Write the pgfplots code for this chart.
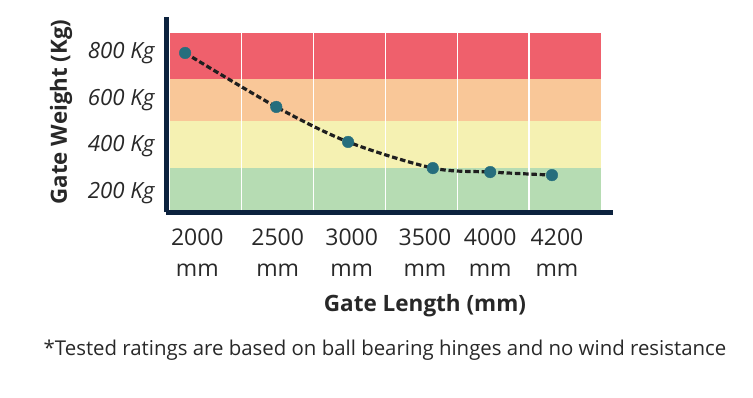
\documentclass[border=0pt]{standalone}
\usepackage{pgfplots}
\pgfplotsset{compat=1.18}
\usepackage{fontspec}
\setmainfont{Open Sans}
\definecolor{bandred}{RGB}{239,96,108}
\definecolor{bandorange}{RGB}{249,199,152}
\definecolor{bandyellow}{RGB}{245,241,178}
\definecolor{bandgreen}{RGB}{182,220,179}
\definecolor{spine}{RGB}{12,34,62}
\definecolor{pt}{RGB}{38,110,125}
\definecolor{txt}{RGB}{40,40,40}
\begin{document}
\begin{tikzpicture}[x=1pt,y=1pt]
\path[use as bounding box] (0,0) rectangle (753,397);
\begin{axis}[
  at={(166pt,185pt)}, anchor=south west,
  scale only axis, width=447pt, height=195pt,
  xmin=-0.056, xmax=6.17, ymin=119, ymax=954,
  axis x line*=bottom, axis y line*=left,
  axis line style={line width=5pt, color=spine, -},
  major tick length=0pt,
  xtick={0.38,1.50,2.53,3.55,4.46,5.39},
  xticklabels={{2000\\mm},{2500\\mm},{3000\\mm},{3500\\mm},{4000\\mm},{4200\\mm}},
  xticklabel style={align=center, font=\fontsize{23}{31}\selectfont, text=txt, yshift=-13pt},
  ytick={200,400,600,800},
  yticklabels={200 Kg,400 Kg,600 Kg,800 Kg},
  yticklabel style={font=\fontsize{22.3}{24}\selectfont\itshape, text=txt, xshift=-8pt},
  clip=false,
]
\fill[bandred] (axis cs:0,689) rectangle (axis cs:6,886);
\fill[bandorange] (axis cs:0,509) rectangle (axis cs:6,689);
\fill[bandyellow] (axis cs:0,307) rectangle (axis cs:6,509);
\fill[bandgreen] (axis cs:0,127) rectangle (axis cs:6,307);
\foreach \g in {1,2,3,4,5} {
  \edef\temp{\noexpand\draw[white, line width=1.2pt] (axis cs:\g,127) -- (axis cs:\g,886);}
  \temp
}
\addplot[smooth, line width=3.2pt, color=black!88, dash pattern=on 5.5pt off 2.8pt]
  coordinates {(0.21,800) (1.48,569) (2.48,419) (3.66,307) (4.46,290) (5.32,277)};
\addplot[only marks, mark=*, mark size=5.8pt, color=pt]
  coordinates {(0.21,800) (1.48,569) (2.48,419) (3.66,307) (4.46,290) (5.32,277)};
\end{axis}
\node[rotate=90, font=\fontsize{22.3}{24}\selectfont\bfseries, text=txt] at (61,285) {Gate Weight (Kg)};
\node[font=\fontsize{22.5}{24}\selectfont\bfseries, text=txt] at (425,91) {Gate Length (mm)};
\node[font=\fontsize{20.4}{24}\selectfont, text=txt] at (385,47) {*Tested ratings are based on ball bearing hinges and no wind resistance};
\end{tikzpicture}
\end{document}
